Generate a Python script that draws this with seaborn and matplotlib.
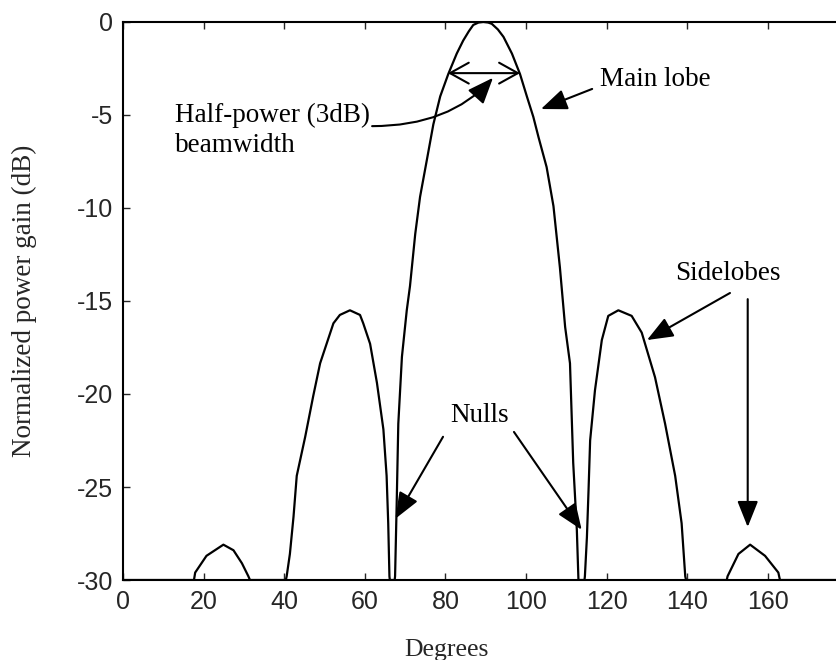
import numpy as np
import pandas as pd
import matplotlib
matplotlib.use("Agg")
import matplotlib.pyplot as plt
import seaborn as sns

# values (degrees, normalized gain in dB, clipped at -30)
degrees = [0, 17.6, 17.9, 20.7, 24.9, 27.4, 29.5, 31.1, 31.5,
           40.4, 40.6, 41.4, 42.3, 43.1, 45.2, 47.2, 48.9, 52.2, 53.8, 56.3, 58.8,
           59.6, 61.3, 63.0, 64.6, 65.4, 65.8, 66.1, 66.2,
           67.4, 67.5, 67.9, 68.3, 69.2, 70.4, 71.2, 72.5, 73.7, 75.4, 77.0, 78.7,
           80.7, 82.8, 84.4, 85.8, 86.9, 88.2, 89.4, 90.6, 91.5, 93.0, 94.4, 96.5,
           98.5, 100.2, 101.8,
           103.1, 105.1, 106.8, 108.4, 109.7, 110.9, 111.7, 112.6, 113.0,
           114.5, 114.6, 115.1, 115.5, 115.9, 117.1, 118.8, 120.4, 122.9, 126.2,
           128.7, 132.0, 134.5, 137.0, 138.6, 139.5, 139.7,
           149.8, 150.0, 152.7, 155.6, 159.3, 162.6, 163.0, 180]
gain_db = [-30, -30, -29.6, -28.7, -28.1, -28.4, -29.1, -29.8, -30,
           -30, -29.8, -28.6, -26.6, -24.4, -22.3, -20.1, -18.35, -16.2, -15.75, -15.5, -15.75,
           -16.2, -17.3, -19.4, -21.9, -24.4, -26.95, -29.8, -30,
           -30, -29.8, -25.9, -21.6, -18.0, -15.5, -14.2, -11.4, -9.4, -7.4, -5.5, -4.0,
           -2.8, -1.7, -1.0, -0.5, -0.16, -0.03, 0.0, -0.03, -0.1, -0.4, -0.8, -1.7,
           -2.8, -4.0, -5.1,
           -6.2, -7.8, -9.9, -13.2, -16.4, -18.35, -23.7, -27.3, -30,
           -30, -29.8, -27.7, -25.2, -22.5, -19.8, -17.1, -15.8, -15.5, -15.8,
           -16.7, -19.1, -21.6, -24.4, -26.95, -29.8, -30,
           -30, -29.8, -28.6, -28.1, -28.7, -29.6, -30, -30]

x_ticks = [0, 20, 40, 60, 80, 100, 120, 140, 160]
y_ticks = [0, -5, -10, -15, -20, -25, -30]

df = pd.DataFrame({"deg": degrees, "gain": gain_db})

sns.set_style("ticks")
plt.rcParams["font.family"] = ["Liberation Serif", "DejaVu Serif"]
plt.rcParams["axes.unicode_minus"] = False

fig = plt.figure(figsize=(8.37, 6.6), dpi=100)
ax = fig.add_axes([0.147, 0.1212, 0.8667, 0.8455])

sns.lineplot(data=df, x="deg", y="gain", sort=False, estimator=None,
             color="black", linewidth=1.6, ax=ax)

ax.set_xlim(0, 180)
ax.set_ylim(-30, 0)
ax.set_xticks(x_ticks)
ax.set_yticks(y_ticks)
ax.set_xticklabels([str(v) for v in x_ticks], family="Liberation Sans", fontsize=18)
ax.set_yticklabels([str(v) for v in y_ticks], family="Liberation Sans", fontsize=18)
ax.tick_params(direction="in", top=True, right=True, length=5, width=1, pad=7)
for s in ax.spines.values():
    s.set_linewidth(1.5)
    s.set_color("black")

ax.set_xlabel("Degrees", fontsize=18.5)
ax.set_ylabel("Normalized power gain (dB)", fontsize=19.5)
ax.xaxis.set_label_coords(0.446, -0.105)
ax.yaxis.set_label_coords(-0.118, 0.5)

txt = dict(fontsize=19.5, color="black")
head = "-|>,head_length=0.8,head_width=0.32"
aprops = dict(arrowstyle=head, color="black", lw=1.5, mutation_scale=20,
              shrinkA=0, shrinkB=0)

# half-power beamwidth
ax.text(12.9, -5.38, "Half-power (3dB)", va="baseline", **txt)
ax.text(12.9, -6.98, "beamwidth", va="baseline", **txt)
ax.annotate("", xy=(80.6, -2.75), xytext=(98.5, -2.75),
            arrowprops=dict(arrowstyle="<->,head_length=0.9,head_width=0.5",
                            color="black", lw=1.5, mutation_scale=15,
                            shrinkA=0, shrinkB=0))
ax.annotate("", xy=(91.8, -3.0), xytext=(61.8, -5.6),
            arrowprops=dict(aprops, connectionstyle="angle3,angleA=0,angleB=48"))

# main lobe
ax.text(118.4, -3.44, "Main lobe", va="baseline", **txt)
ax.annotate("", xy=(103.7, -4.68), xytext=(116.4, -3.6), arrowprops=aprops)

# sidelobes
ax.text(137.0, -13.87, "Sidelobes", va="baseline", **txt)
ax.annotate("", xy=(130.0, -17.1), xytext=(150.6, -14.57), arrowprops=aprops)
ax.annotate("", xy=(155.0, -27.15), xytext=(155.0, -14.9), arrowprops=aprops)

# nulls
ax.text(81.1, -21.5, "Nulls", va="baseline", **txt)
ax.annotate("", xy=(67.6, -26.7), xytext=(79.4, -22.3), arrowprops=aprops)
ax.annotate("", xy=(113.8, -27.3), xytext=(97.0, -22.04), arrowprops=aprops)

fig.savefig("out.png", dpi=100)
